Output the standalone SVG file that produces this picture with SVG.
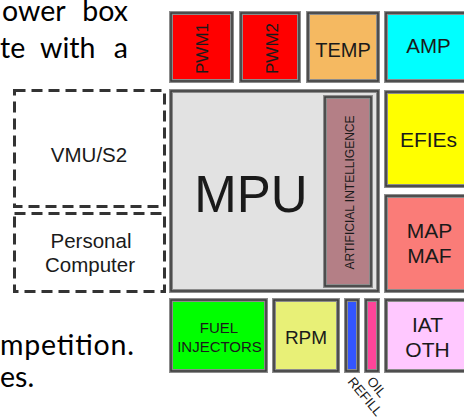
<svg xmlns="http://www.w3.org/2000/svg" width="464" height="418" viewBox="0 0 464 418">
<style>
.b{stroke:#8c8c8c;stroke-width:4}
.i{fill:none;stroke:#3a3a3a;stroke-width:1.5}
.d{fill:none;stroke:#333;stroke-width:3;stroke-dasharray:11 6}
.t{font-family:"Liberation Sans",Arial,sans-serif;fill:#1a1a1a;text-anchor:middle}
.p{font-family:Lato,"Open Sans",sans-serif;font-size:28.5px;fill:#000}
</style>
<rect width="464" height="418" fill="#fff"/>
<g id="paragraph">
<text class="p" x="2" y="21">ower</text>
<text class="p" x="128" y="21" text-anchor="end">box</text>
<text class="p" x="0" y="58">te</text>
<text class="p" x="40" y="58">with</text>
<text class="p" x="128" y="58" text-anchor="end">a</text>
<text class="p" x="0" y="355" textLength="134" lengthAdjust="spacing">mpetition.</text>
<text class="p" x="0" y="387">es.</text>
</g>
<g id="connectors"></g>
<g id="vmu">
<rect class="d" x="14.5" y="90.5" width="150" height="116"/>
<text class="t" x="89" y="162" font-size="20.5">VMU/S2</text>
</g>
<g id="pc">
<rect class="d" x="14.5" y="213.5" width="150" height="78"/>
<text class="t" x="91" y="248" font-size="20.5">Personal</text>
<text class="t" x="90" y="272" font-size="20.5">Computer</text>
</g>
<g id="pwm1">
<rect class="b" x="171" y="13" width="61" height="68" fill="#ff0000"/>
<rect class="i" x="171" y="13" width="61" height="68"/>
<text class="t" font-size="17" transform="translate(208,48.5) rotate(-90)">PWM1</text>
</g>
<g id="pwm2">
<rect class="b" x="241" y="13" width="58" height="68" fill="#ff0000"/>
<rect class="i" x="241" y="13" width="58" height="68"/>
<text class="t" font-size="17" transform="translate(278,48.5) rotate(-90)">PWM2</text>
</g>
<g id="temp">
<rect class="b" x="308" y="13" width="70" height="68" fill="#f5b961"/>
<rect class="i" x="308" y="13" width="70" height="68"/>
<text class="t" x="343" y="57" font-size="20">TEMP</text>
</g>
<g id="amp">
<rect class="b" x="386" y="13" width="86" height="68" fill="#00ffff"/>
<rect class="i" x="386" y="13" width="86" height="68"/>
<text class="t" x="428.5" y="53" font-size="20.5">AMP</text>
</g>
<g id="mpu">
<rect class="b" x="171" y="91" width="207" height="200" fill="#e2e2e2"/>
<rect class="i" x="171" y="91" width="207" height="200"/>
<text class="t" x="251" y="212" font-size="51">MPU</text>
</g>
<g id="ai">
<rect class="b" x="325" y="97" width="46" height="189" fill="#b47f86"/>
<rect class="i" x="325" y="97" width="46" height="189"/>
<text class="t" font-size="12" fill="#333" transform="translate(354,192.5) rotate(-90)">ARTIFICIAL INTELLIGENCE</text>
</g>
<g id="efies">
<rect class="b" x="386" y="92" width="86" height="94" fill="#ffff00"/>
<rect class="i" x="386" y="92" width="86" height="94"/>
<text class="t" x="428.5" y="147" font-size="21">EFIEs</text>
</g>
<g id="mapmaf">
<rect class="b" x="386" y="196" width="86" height="95" fill="#fa7c78"/>
<rect class="i" x="386" y="196" width="86" height="95"/>
<text class="t" x="429.5" y="238" font-size="21">MAP</text>
<text class="t" x="429.5" y="263" font-size="21">MAF</text>
</g>
<g id="fuel">
<rect class="b" x="171" y="300" width="95" height="71" fill="#00ff00"/>
<rect class="i" x="171" y="300" width="95" height="71"/>
<text class="t" x="219" y="333" font-size="15">FUEL</text>
<text class="t" x="219.5" y="352" font-size="15">INJECTORS</text>
</g>
<g id="rpm">
<rect class="b" x="274" y="300" width="64" height="71" fill="#e8f077"/>
<rect class="i" x="274" y="300" width="64" height="71"/>
<text class="t" x="306" y="344" font-size="19">RPM</text>
</g>
<g id="oil">
<rect class="b" x="346" y="300" width="12" height="71" fill="#3355ff"/>
<rect class="i" x="346" y="300" width="12" height="71"/>
</g>
<g id="refill">
<rect class="b" x="366" y="300" width="12" height="71" fill="#ff4499"/>
<rect class="i" x="366" y="300" width="12" height="71"/>
</g>
<g id="iat">
<rect class="b" x="386" y="300" width="86" height="71" fill="#ffc8ff"/>
<rect class="i" x="386" y="300" width="86" height="71"/>
<text class="t" x="427.5" y="332" font-size="21">IAT</text>
<text class="t" x="427.5" y="357" font-size="21">OTH</text>
</g>
<g id="oil-refill-label" class="t" font-size="13.5" fill="#333">
<text transform="translate(373.2,389.9) rotate(50)">OIL</text>
<text transform="translate(361.7,399.5) rotate(50)">REFILL</text>
</g>
</svg>
